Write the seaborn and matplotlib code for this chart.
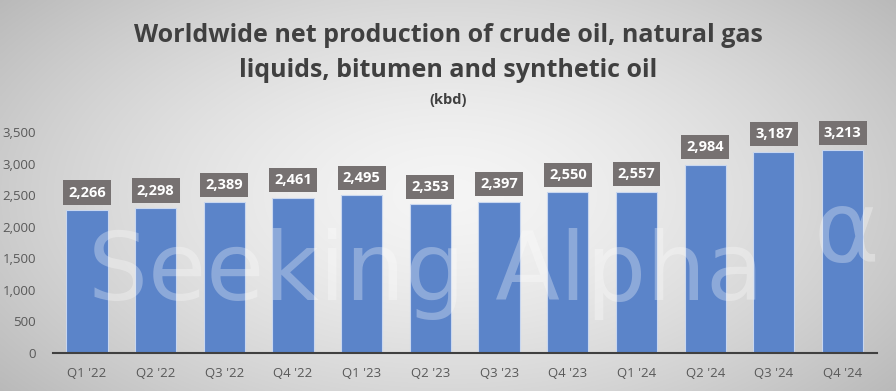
import matplotlib
matplotlib.use("Agg")
import matplotlib.pyplot as plt
import numpy as np
import pandas as pd
import seaborn as sns

quarters = ["Q1 '22", "Q2 '22", "Q3 '22", "Q4 '22", "Q1 '23", "Q2 '23",
            "Q3 '23", "Q4 '23", "Q1 '24", "Q2 '24", "Q3 '24", "Q4 '24"]
production = [2266, 2298, 2389, 2461, 2495, 2353, 2397, 2550, 2557, 2984, 3187, 3213]
yticks = [0, 500, 1000, 1500, 2000, 2500, 3000, 3500]

df = pd.DataFrame({"quarter": quarters, "kbd": production})

sns.set_style("white")
plt.rcParams["font.family"] = ["Open Sans", "DejaVu Sans"]

fig = plt.figure(figsize=(8.96, 3.91), dpi=100)

# radial grey background like the Excel chart area
bg = fig.add_axes([0, 0, 1, 1], zorder=0)
yy, xx = np.mgrid[-1:1:200j, -1:1:400j]
r = np.clip(np.sqrt(xx ** 2 + (yy * 0.8) ** 2), 0, 1.3)
grey = 0.96 - 0.16 * r ** 1.5
bg.imshow(np.dstack([grey, grey, grey]), aspect="auto",
          extent=[0, 1, 0, 1], interpolation="bilinear")
bg.axis("off")

ax = fig.add_axes([0.0587, 0.097, 0.92, 0.614], zorder=1)
ax.patch.set_alpha(0)
sns.barplot(data=df, x="quarter", y="kbd", color="#5b84c9", width=0.6,
            edgecolor="#c9d7ef", linewidth=0.8, saturation=1, ax=ax)

# value labels in dark grey boxes above the bars
for i, v in enumerate(production):
    ax.annotate(f"{v:,}", (i, v), xytext=(0, 12.5), textcoords="offset points",
                ha="center", va="center", color="white", fontsize=10.5,
                fontweight="bold",
                bbox=dict(boxstyle="square,pad=0.35", fc="#767171", ec="none"))

ax.set_ylim(0, 3800)
ax.set_xlim(-0.5, 11.5)
ax.set_yticks(yticks)
ax.set_yticklabels([f"{t:,}" for t in yticks])
ax.set_xlabel("")
ax.set_ylabel("")
ax.tick_params(axis="both", length=0, labelsize=9.5, colors="#595959")
ax.tick_params(axis="x", pad=10)
ax.tick_params(axis="y", pad=12)
for s in ["top", "right", "left"]:
    ax.spines[s].set_visible(False)
ax.spines["bottom"].set_color("#404040")
ax.spines["bottom"].set_linewidth(1.5)

# watermark
fig.text(0.475, 0.233, "Seeking Alpha", family="DejaVu Sans", fontsize=68,
         color="white", alpha=0.3, ha="center", va="baseline", zorder=3)
fig.text(0.945, 0.40, "\u03b1", family="DejaVu Sans", fontsize=72,
         color="white", alpha=0.3, ha="center", va="center", zorder=3)

fig.text(0.5, 0.91, "Worldwide net production of crude oil, natural gas",
         ha="center", va="center", fontsize=18, fontweight="bold", color="#404040")
fig.text(0.5, 0.82, "liquids, bitumen and synthetic oil",
         ha="center", va="center", fontsize=18, fontweight="bold", color="#404040")
fig.text(0.5, 0.745, "(kbd)", ha="center", va="center", fontsize=10.5,
         fontweight="bold", color="#404040")

fig.savefig("out.png", dpi=100)
